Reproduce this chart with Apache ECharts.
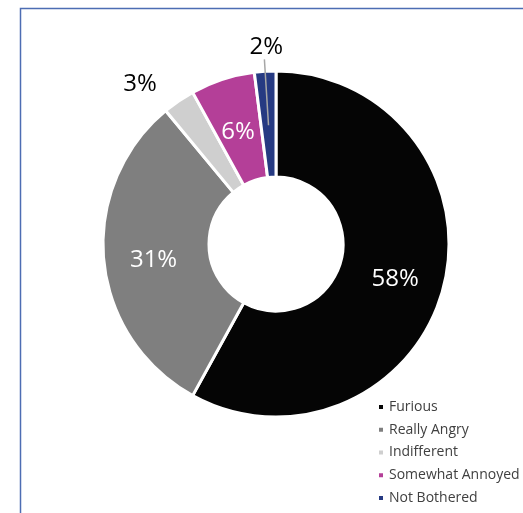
<!DOCTYPE html>
<html>
<head>
<meta charset="utf-8">
<script src="https://cdn.jsdelivr.net/npm/echarts@6/dist/echarts.min.js"></script>
<style>
html,body{margin:0;padding:0;background:#fff;}
#chart{width:523px;height:513px;}
</style>
</head>
<body>
<div id="chart"></div>
<script>
const categories = ['Furious', 'Really Angry', 'Indifferent', 'Somewhat Annoyed', 'Not Bothered'];
const values = [58, 31, 3, 6, 2];
const colors = ['#050505', '#7f7f7f', '#cfcfcf', '#b43f98', '#263a82'];
const labelInside = [true, true, false, true, false];

const FONT = '"Open Sans", sans-serif';

const mainData = categories.map((name, i) => {
  const item = { name: name, value: values[i], itemStyle: { color: colors[i] } };
  if (labelInside[i]) {
    item.label = { show: true, position: 'inside', color: '#fff' };
  } else if (name === 'Indifferent') {
    item.label = { show: true, position: 'outside', color: '#000' };
    item.labelLine = { show: false, length: 30, length2: 6 };
  } else {
    item.label = { show: false };
  }
  return item;
});

const overlayData = categories.map((name, i) => {
  const item = { name: name, value: values[i] };
  if (name === 'Not Bothered') {
    item.label = { show: true, position: 'outside', color: '#000' };
    item.labelLine = { show: true, length: 66, length2: 0, lineStyle: { color: '#a6a6a6', width: 1.5 } };
  } else {
    item.label = { show: false };
    item.labelLine = { show: false };
  }
  return item;
});

const chart = echarts.init(document.getElementById('chart'), null, { renderer: 'canvas' });
chart.setOption({
  animation: false,
  color: colors,
  graphic: [{
    type: 'rect',
    shape: { x: 20.5, y: 8.5, width: 620, height: 620 },
    style: { fill: 'none', stroke: '#4d6db3', lineWidth: 1.5 },
    silent: true
  }],
  legend: {
    type: 'plain',
    orient: 'vertical',
    left: 372,
    top: 395,
    height: 140,
    icon: 'rect',
    itemWidth: 6,
    itemHeight: 6,
    itemGap: 8.75,
    selectedMode: false,
    data: categories,
    textStyle: { fontFamily: FONT, fontSize: 14, color: '#404040' }
  },
  series: [
    {
      type: 'pie',
      z: 2,
      center: [276, 244],
      radius: [67, 173],
      startAngle: 90,
      clockwise: true,
      avoidLabelOverlap: false,
      itemStyle: { borderColor: '#ffffff', borderWidth: 3 },
      label: { formatter: '{c}%', fontFamily: FONT, fontSize: 24 },
      labelLayout: function (p) {
        if (p.dataIndex === 2) return { dx: 6, dy: 8 };
        return { dy: 5 };
      },
      emphasis: { disabled: true },
      data: mainData
    },
    {
      type: 'pie',
      z: 3,
      center: [276, 244],
      radius: [0, 119],
      startAngle: 90,
      clockwise: true,
      silent: true,
      avoidLabelOverlap: false,
      itemStyle: { color: 'rgba(0,0,0,0)', borderWidth: 0 },
      label: { formatter: '{c}%', fontFamily: FONT, fontSize: 24 },
      labelLayout: function (p) {
        return { align: 'center', verticalAlign: 'bottom', dx: 7, dy: 0 };
      },
      emphasis: { disabled: true },
      legendHoverLink: false,
      data: overlayData
    }
  ]
});
</script>
</body>
</html>
